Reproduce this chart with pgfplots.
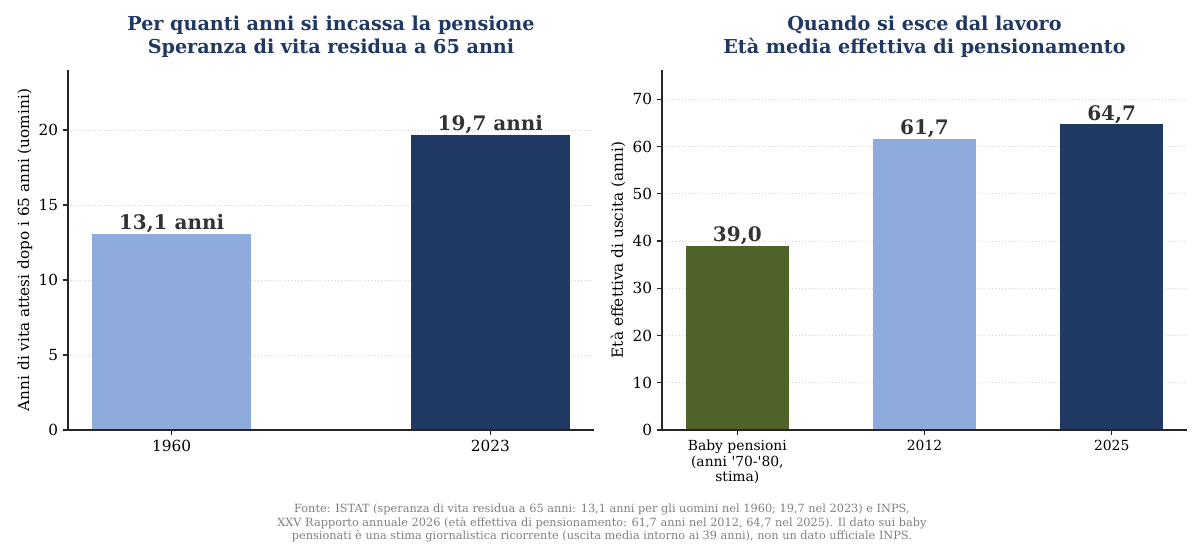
\documentclass[border=0pt]{standalone}
\usepackage{pgfplots}
\pgfplotsset{compat=1.18}
\usepackage{pgfplotstable}
\usepackage{fontspec}
\setmainfont{DejaVu Serif}
\definecolor{lightblu}{HTML}{8FAADC}
\definecolor{navy}{HTML}{203864}
\definecolor{olive}{HTML}{4F6228}
\definecolor{titlecol}{HTML}{1F3864}
\definecolor{valcol}{HTML}{333333}
\definecolor{axcol}{HTML}{262626}

\pgfplotstableread{
x y label
0 13.1 {13,1 anni}
}\leftA
\pgfplotstableread{
x y label
1 19.7 {19,7 anni}
}\leftB
\pgfplotstableread{
x y label
0 39.0 {39,0}
}\rightA
\pgfplotstableread{
x y label
1 61.7 {61,7}
}\rightB
\pgfplotstableread{
x y label
2 64.7 {64,7}
}\rightC

\pgfplotsset{
  common/.style={
    scale only axis,
    height=259.2pt,
    ymin=0,
    axis x line*=bottom,
    axis y line*=left,
    axis line style={axcol, line width=0.8pt},
    tick style={axcol, line width=0.8pt},
    tick align=outside,
    major tick length=3.6pt,
    ymajorgrids,
    grid style={dotted, gray!35, line width=0.5pt},
    /pgf/number format/assume math mode=true,
    yticklabel style={font=\fontsize{11}{13}\selectfont, text=black},
    ylabel style={font=\fontsize{11}{13}\selectfont, anchor=center},
    ybar,
    bar shift=0pt,
  },
  valbar/.style={
    draw=none,
    point meta=explicit symbolic,
    nodes near coords={\pgfplotspointmeta},
    nodes near coords style={font=\bfseries\fontsize{14.4}{16}\selectfont, text=valcol, anchor=base, yshift=3pt},
  },
  baseline/.style={sharp plot, axcol, line width=0.8pt, forget plot, mark=none},
}

\begin{document}
\begin{tikzpicture}
\path[use as bounding box] (0,0) rectangle (866.88pt,-394.56pt);

\begin{axis}[common,
  at={(48.96pt,-309.6pt)}, anchor=south west,
  width=378.7pt,
  xmin=-0.325, xmax=1.325,
  ymax=24,
  bar width=0.5,
  ytick={0,5,10,15,20},
  xtick={0,1},
  xticklabels={1960,2023},
  xticklabel style={font=\fontsize{11}{13}\selectfont},
  ylabel={Anni di vita attesi dopo i 65 anni (uomini)},
  ylabel style={at={(axis description cs:-0.082,0.5)}},
]
\addplot[valbar, fill=lightblu] table[x=x,y=y,meta=label] {\leftA};
\addplot[valbar, fill=navy] table[x=x,y=y,meta=label] {\leftB};
\addplot[baseline] coordinates {(-0.325,0) (1.325,0)};
\end{axis}

\begin{axis}[common,
  at={(476.64pt,-309.6pt)}, anchor=south west,
  width=378pt,
  xmin=-0.4025, xmax=2.4025,
  ymax=76.2,
  bar width=0.55,
  ytick={0,10,20,30,40,50,60,70},
  xtick={0,1,2},
  xticklabels={{Baby pensioni\\(anni \textquotesingle70-\textquotesingle80,\\stima)},2012,2025},
  xticklabel style={font=\fontsize{10}{11.2}\selectfont, align=center, text=black},
  ylabel={Età effettiva di uscita (anni)},
  ylabel style={at={(axis description cs:-0.084,0.5)}},
]
\addplot[valbar, fill=olive] table[x=x,y=y,meta=label] {\rightA};
\addplot[valbar, fill=lightblu] table[x=x,y=y,meta=label] {\rightB};
\addplot[valbar, fill=navy] table[x=x,y=y,meta=label] {\rightC};
\addplot[baseline] coordinates {(-0.4025,0) (2.4025,0)};
\end{axis}

\node[align=center, text=titlecol, font=\bfseries\fontsize{13.8}{16.6}\selectfont] at (238.3pt,-26.4pt)
  {Per quanti anni si incassa la pensione\\Speranza di vita residua a 65 anni};
\node[align=center, text=titlecol, font=\bfseries\fontsize{13.8}{16.6}\selectfont] at (665.6pt,-26.4pt)
  {Quando si esce dal lavoro\\Età media effettiva di pensionamento};
\node[align=center, text=gray, font=\fontsize{8.15}{9.7}\selectfont] at (433.4pt,-376.8pt)
  {Fonte: ISTAT (speranza di vita residua a 65 anni: 13,1 anni per gli uomini nel 1960; 19,7 nel 2023) e INPS,\\
   XXV Rapporto annuale 2026 (età effettiva di pensionamento: 61,7 anni nel 2012, 64,7 nel 2025). Il dato sui baby\\
   pensionati è una stima giornalistica ricorrente (uscita media intorno ai 39 anni), non un dato ufficiale INPS.};
\end{tikzpicture}
\end{document}
